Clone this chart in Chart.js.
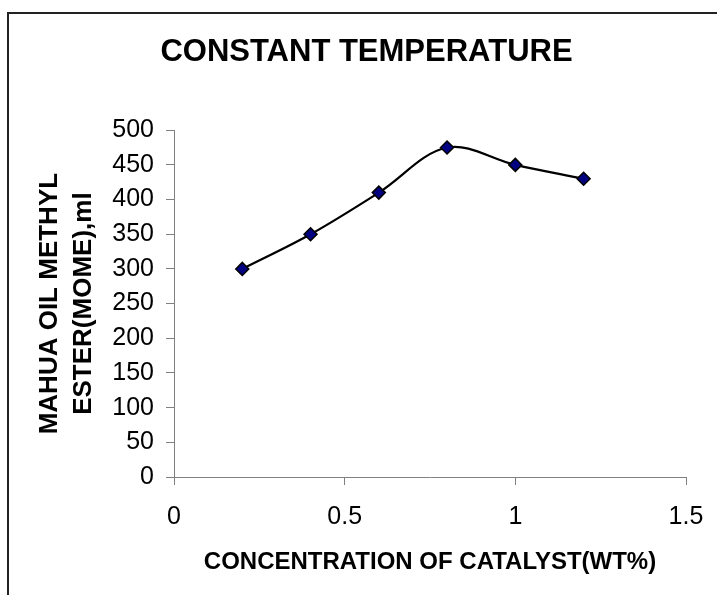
<!DOCTYPE html>
<html>
<head>
<meta charset="utf-8">
<script src="https://cdn.jsdelivr.net/npm/chart.js@4"></script>
<style>
  html, body { margin: 0; padding: 0; background: #fff; }
  #wrap { position: relative; width: 717px; height: 595px; overflow: hidden; }
  #frame { position: absolute; left: 7px; top: 12px; width: 800px; height: 700px;
           border-left: 2px solid #222; border-top: 2px solid #222; }
  #grafico { position: absolute; left: 0; top: 0; }
</style>
</head>
<body>
<div id="wrap">
  <div id="frame"></div>
  <canvas id="grafico" width="717" height="595"></canvas>
</div>
<script>
// datos
const catalyst = [0.2, 0.4, 0.6, 0.8, 1.0, 1.2];
const esterMl = [300, 350, 410, 475, 450, 430];

const titleText = "CONSTANT TEMPERATURE";
const xTitle = "CONCENTRATION OF CATALYST(WT%)";
const yTitle = ["MAHUA OIL METHYL", "ESTER(MOME),ml"];

const FONT = "'Liberation Sans', Arial, sans-serif";

document.addEventListener("DOMContentLoaded", () => {
    const ctx = document.getElementById("grafico").getContext("2d");

    const puntos = catalyst.map((x, i) => ({ x: x, y: esterMl[i] }));

    new Chart(ctx, {
        type: "scatter",
        data: {
            datasets: [{
                data: puntos,
                showLine: true,
                borderColor: "#000",
                borderWidth: 2.2,
                tension: 0.35,
                pointStyle: "rectRot",
                pointRadius: 6.5,
                pointBackgroundColor: "#000080",
                pointBorderColor: "#000",
                pointBorderWidth: 1.5
            }]
        },
        options: {
            responsive: false,
            animation: false,
            // left/right padding keep the title centred like the original
            layout: { padding: { left: 47, right: 31, top: 0, bottom: 0 } },
            plugins: {
                legend: { display: false },
                tooltip: { enabled: false },
                title: {
                    display: true,
                    text: titleText,
                    color: "#000",
                    font: { family: FONT, size: 31, weight: "bold", lineHeight: 1.2 },
                    padding: { top: 34, bottom: 59 }
                }
            },
            scales: {
                x: {
                    type: "linear",
                    min: 0, max: 1.5,
                    ticks: { stepSize: 0.5, color: "#000", padding: 17,
                             font: { family: FONT, size: 25 },
                             callback: (v) => String(v) },
                    grid: { drawOnChartArea: false, tickLength: 8, color: "#808080" },
                    border: { color: "#808080", width: 1 },
                    title: { display: true, text: xTitle, color: "#000",
                             font: { family: FONT, size: 24, weight: "bold", lineHeight: 1.2 },
                             padding: { top: 0, bottom: 18 } },
                    afterFit: (s) => {
                        s.height = 118;
                        // no extra room for the last label, the layout padding covers it
                        s.paddingLeft = 0;
                        s.paddingRight = 0;
                    }
                },
                y: {
                    min: 0, max: 500,
                    ticks: { stepSize: 50, color: "#000", padding: 12,
                             font: { family: FONT, size: 25 } },
                    grid: { drawOnChartArea: false, tickLength: 8, color: "#808080" },
                    border: { color: "#808080", width: 1 },
                    title: { display: true, text: yTitle, color: "#000",
                             font: { family: FONT, size: 26, weight: "bold", lineHeight: 1.3 },
                             padding: { top: -14, bottom: 0 } },
                    afterFit: (s) => { s.width = 127; }
                }
            }
        }
    });
});
</script>
</body>
</html>
